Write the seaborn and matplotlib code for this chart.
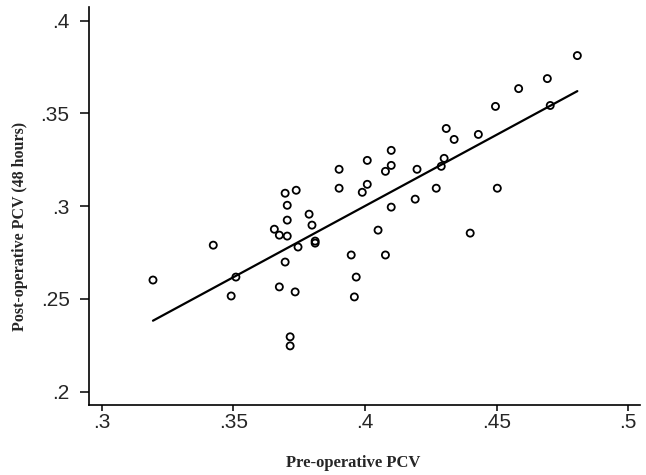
import numpy as np
import pandas as pd
import matplotlib
matplotlib.use("Agg")
import matplotlib.pyplot as plt
import seaborn as sns

# values
pre_pcv = [
    0.3195, 0.3424, 0.3492, 0.3510, 0.3656, 0.3675, 0.3697, 0.3739, 0.3705, 0.3705,
    0.3705, 0.3788, 0.3799, 0.3746, 0.3811, 0.3811, 0.3697, 0.3675, 0.3735, 0.3716,
    0.3716, 0.3902, 0.3902, 0.4009, 0.4009, 0.3990, 0.4100, 0.4100, 0.4078, 0.4198,
    0.4100, 0.4050, 0.3948, 0.4078, 0.3967, 0.3960, 0.4191, 0.4271, 0.4290, 0.4301,
    0.4309, 0.4339, 0.4431, 0.4503, 0.4400, 0.4496, 0.4584, 0.4693, 0.4704, 0.4807,
]
post_pcv = [
    0.2602, 0.2790, 0.2516, 0.2618, 0.2876, 0.2844, 0.3070, 0.3086, 0.3005, 0.2925,
    0.2839, 0.2957, 0.2898, 0.2780, 0.2812, 0.2801, 0.2699, 0.2565, 0.2538, 0.2296,
    0.2247, 0.3199, 0.3097, 0.3247, 0.3118, 0.3075, 0.3301, 0.3220, 0.3188, 0.3199,
    0.2995, 0.2871, 0.2737, 0.2737, 0.2618, 0.2511, 0.3038, 0.3097, 0.3215, 0.3258,
    0.3419, 0.3360, 0.3387, 0.3097, 0.2855, 0.3538, 0.3634, 0.3688, 0.3543, 0.3812,
]
x_ticks = [0.3, 0.35, 0.4, 0.45, 0.5]
y_ticks = [0.2, 0.25, 0.3, 0.35, 0.4]
x_ticklabels = [".3", ".35", ".4", ".45", ".5"]
y_ticklabels = [".2", ".25", ".3", ".35", ".4"]

df = pd.DataFrame({"pre": pre_pcv, "post": post_pcv})

sns.set_style("ticks")
plt.rcParams["font.family"] = ["Liberation Sans", "DejaVu Sans"]

fig = plt.figure(figsize=(6.46, 4.75), dpi=100)
ax = fig.add_axes([0.1382, 0.1484, 0.8525, 0.8369])

# scatter + fitted line
sns.regplot(
    data=df, x="pre", y="post", ax=ax, ci=None,
    scatter_kws=dict(facecolors="none", edgecolors="black", s=26,
                     linewidths=1.3, alpha=1),
    line_kws=dict(color="black", lw=1.6),
)

ax.set_xlim(0.2953, 0.5045)
ax.set_ylim(0.1931, 0.4074)
ax.set_xticks(x_ticks)
ax.set_xticklabels(x_ticklabels)
ax.set_yticks(y_ticks)
ax.set_yticklabels(y_ticklabels)
ax.tick_params(axis="x", length=4.3, width=1.1, labelsize=15, pad=1.5, color="black")
ax.tick_params(axis="y", length=6.2, width=1.1, labelsize=15, pad=8, color="black")

for side in ["top", "right"]:
    ax.spines[side].set_visible(False)
for side in ["left", "bottom"]:
    ax.spines[side].set_linewidth(1.2)
    ax.spines[side].set_color("black")

ax.set_xlabel("Pre-operative PCV", family="Liberation Serif", fontweight="bold",
              fontsize=12)
ax.set_ylabel("Post-operative PCV (48 hours)", family="Liberation Serif",
              fontweight="bold", fontsize=11.5)
ax.xaxis.set_label_coords(0.479, -0.127)
ax.yaxis.set_label_coords(-0.1113, 0.449)

fig.savefig("out.png", dpi=100)
